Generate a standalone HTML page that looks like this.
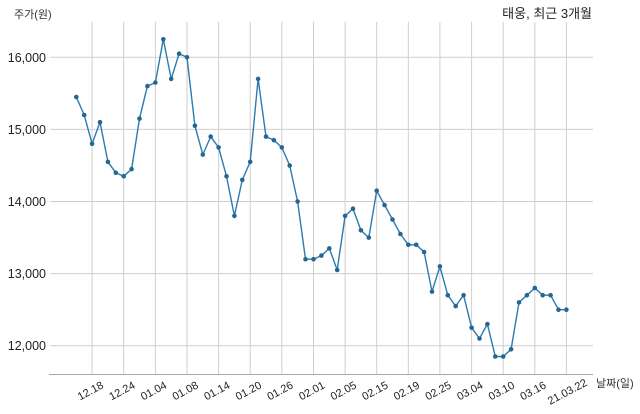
<!DOCTYPE html>
<html><head><meta charset="utf-8"><style>
html,body{margin:0;padding:0;background:#fff;}
svg{display:block;font-family:"Liberation Sans","Noto Sans CJK KR",sans-serif;}
</style></head><body>
<svg width="640" height="414" viewBox="0 0 640 414" xmlns="http://www.w3.org/2000/svg">
<rect width="640" height="414" fill="#fff"/>
<g stroke="#cfcfcf" stroke-width="1">
<line x1="50" y1="57.3" x2="593" y2="57.3"/>
<line x1="50" y1="129.4" x2="593" y2="129.4"/>
<line x1="50" y1="201.5" x2="593" y2="201.5"/>
<line x1="50" y1="273.6" x2="593" y2="273.6"/>
<line x1="50" y1="345.7" x2="593" y2="345.7"/>
<line x1="92.1" y1="22" x2="92.1" y2="374"/>
<line x1="123.7" y1="22" x2="123.7" y2="374"/>
<line x1="155.4" y1="22" x2="155.4" y2="374"/>
<line x1="187.0" y1="22" x2="187.0" y2="374"/>
<line x1="218.6" y1="22" x2="218.6" y2="374"/>
<line x1="250.2" y1="22" x2="250.2" y2="374"/>
<line x1="281.8" y1="22" x2="281.8" y2="374"/>
<line x1="313.5" y1="22" x2="313.5" y2="374"/>
<line x1="345.1" y1="22" x2="345.1" y2="374"/>
<line x1="376.7" y1="22" x2="376.7" y2="374"/>
<line x1="408.3" y1="22" x2="408.3" y2="374"/>
<line x1="439.9" y1="22" x2="439.9" y2="374"/>
<line x1="471.6" y1="22" x2="471.6" y2="374"/>
<line x1="503.2" y1="22" x2="503.2" y2="374"/>
<line x1="534.8" y1="22" x2="534.8" y2="374"/>
<line x1="566.4" y1="22" x2="566.4" y2="374"/>
</g>
<line x1="49" y1="374.5" x2="593" y2="374.5" stroke="#a8a8a8" stroke-width="1"/>
<g font-size="12.5" fill="#222" text-anchor="end">
<text x="46" y="62">16,000</text>
<text x="46" y="134">15,000</text>
<text x="46" y="206">14,000</text>
<text x="46" y="278">13,000</text>
<text x="46" y="350">12,000</text>
</g>
<text x="14" y="18" font-size="11" fill="#333">주가(원)</text>
<text x="592" y="18" font-size="13" fill="#222" text-anchor="end">태웅, 최근 3개월</text>
<text x="596" y="387" font-size="11" fill="#333">날짜(일)</text>
<g font-size="11" fill="#222" text-anchor="middle">
<text transform="translate(92.1,394) rotate(-28)">12.18</text>
<text transform="translate(123.7,394) rotate(-28)">12.24</text>
<text transform="translate(155.4,394) rotate(-28)">01.04</text>
<text transform="translate(187.0,394) rotate(-28)">01.08</text>
<text transform="translate(218.6,394) rotate(-28)">01.14</text>
<text transform="translate(250.2,394) rotate(-28)">01.20</text>
<text transform="translate(281.8,394) rotate(-28)">01.26</text>
<text transform="translate(313.5,394) rotate(-28)">02.01</text>
<text transform="translate(345.1,394) rotate(-28)">02.05</text>
<text transform="translate(376.7,394) rotate(-28)">02.15</text>
<text transform="translate(408.3,394) rotate(-28)">02.19</text>
<text transform="translate(439.9,394) rotate(-28)">02.25</text>
<text transform="translate(471.6,394) rotate(-28)">03.04</text>
<text transform="translate(503.2,394) rotate(-28)">03.10</text>
<text transform="translate(534.8,394) rotate(-28)">03.16</text>
<text transform="translate(569,395) rotate(-28)">21.03.22</text>
</g>
<polyline fill="none" stroke="#2b7bb0" stroke-width="1.4" stroke-linejoin="round" points="76.3,97.0 84.2,115.0 92.1,143.8 100.0,122.2 107.9,161.9 115.8,172.7 123.7,176.3 131.6,169.1 139.5,118.6 147.4,86.1 155.4,82.5 163.3,39.3 171.2,78.9 179.1,53.7 187.0,57.3 194.9,125.8 202.8,154.6 210.7,136.6 218.6,147.4 226.5,176.3 234.4,215.9 242.3,179.9 250.2,161.9 258.1,78.9 266.0,136.6 273.9,140.2 281.8,147.4 289.7,165.5 297.6,201.5 305.5,259.2 313.5,259.2 321.4,255.6 329.3,248.4 337.2,270.0 345.1,215.9 353.0,208.7 360.9,230.3 368.8,237.6 376.7,190.7 384.6,205.1 392.5,219.5 400.4,234.0 408.3,244.8 416.2,244.8 424.1,252.0 432.0,291.6 439.9,266.4 447.8,295.2 455.7,306.1 463.6,295.2 471.6,327.7 479.5,338.5 487.4,324.1 495.3,356.5 503.2,356.5 511.1,349.3 519.0,302.4 526.9,295.2 534.8,288.0 542.7,295.2 550.6,295.2 558.5,309.7 566.4,309.7"/>
<g fill="#26668f">
<circle cx="76.3" cy="97.0" r="2.3"/><circle cx="84.2" cy="115.0" r="2.3"/><circle cx="92.1" cy="143.8" r="2.3"/><circle cx="100.0" cy="122.2" r="2.3"/><circle cx="107.9" cy="161.9" r="2.3"/><circle cx="115.8" cy="172.7" r="2.3"/><circle cx="123.7" cy="176.3" r="2.3"/><circle cx="131.6" cy="169.1" r="2.3"/><circle cx="139.5" cy="118.6" r="2.3"/><circle cx="147.4" cy="86.1" r="2.3"/><circle cx="155.4" cy="82.5" r="2.3"/><circle cx="163.3" cy="39.3" r="2.3"/><circle cx="171.2" cy="78.9" r="2.3"/><circle cx="179.1" cy="53.7" r="2.3"/><circle cx="187.0" cy="57.3" r="2.3"/><circle cx="194.9" cy="125.8" r="2.3"/><circle cx="202.8" cy="154.6" r="2.3"/><circle cx="210.7" cy="136.6" r="2.3"/><circle cx="218.6" cy="147.4" r="2.3"/><circle cx="226.5" cy="176.3" r="2.3"/><circle cx="234.4" cy="215.9" r="2.3"/><circle cx="242.3" cy="179.9" r="2.3"/><circle cx="250.2" cy="161.9" r="2.3"/><circle cx="258.1" cy="78.9" r="2.3"/><circle cx="266.0" cy="136.6" r="2.3"/><circle cx="273.9" cy="140.2" r="2.3"/><circle cx="281.8" cy="147.4" r="2.3"/><circle cx="289.7" cy="165.5" r="2.3"/><circle cx="297.6" cy="201.5" r="2.3"/><circle cx="305.5" cy="259.2" r="2.3"/><circle cx="313.5" cy="259.2" r="2.3"/><circle cx="321.4" cy="255.6" r="2.3"/><circle cx="329.3" cy="248.4" r="2.3"/><circle cx="337.2" cy="270.0" r="2.3"/><circle cx="345.1" cy="215.9" r="2.3"/><circle cx="353.0" cy="208.7" r="2.3"/><circle cx="360.9" cy="230.3" r="2.3"/><circle cx="368.8" cy="237.6" r="2.3"/><circle cx="376.7" cy="190.7" r="2.3"/><circle cx="384.6" cy="205.1" r="2.3"/><circle cx="392.5" cy="219.5" r="2.3"/><circle cx="400.4" cy="234.0" r="2.3"/><circle cx="408.3" cy="244.8" r="2.3"/><circle cx="416.2" cy="244.8" r="2.3"/><circle cx="424.1" cy="252.0" r="2.3"/><circle cx="432.0" cy="291.6" r="2.3"/><circle cx="439.9" cy="266.4" r="2.3"/><circle cx="447.8" cy="295.2" r="2.3"/><circle cx="455.7" cy="306.1" r="2.3"/><circle cx="463.6" cy="295.2" r="2.3"/><circle cx="471.6" cy="327.7" r="2.3"/><circle cx="479.5" cy="338.5" r="2.3"/><circle cx="487.4" cy="324.1" r="2.3"/><circle cx="495.3" cy="356.5" r="2.3"/><circle cx="503.2" cy="356.5" r="2.3"/><circle cx="511.1" cy="349.3" r="2.3"/><circle cx="519.0" cy="302.4" r="2.3"/><circle cx="526.9" cy="295.2" r="2.3"/><circle cx="534.8" cy="288.0" r="2.3"/><circle cx="542.7" cy="295.2" r="2.3"/><circle cx="550.6" cy="295.2" r="2.3"/><circle cx="558.5" cy="309.7" r="2.3"/><circle cx="566.4" cy="309.7" r="2.3"/>
</g>
</svg>
</body></html>
